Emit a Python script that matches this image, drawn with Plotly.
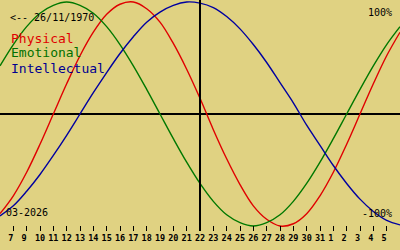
import plotly.graph_objects as go

# Values (one value per day, -1..1 = -100%..100%)
day_index = list(range(31))
physical = [-0.89, -0.73, -0.52, -0.27, 0.0, 0.27, 0.52, 0.73, 0.89, 0.98, 1.0,
            0.94, 0.82, 0.63, 0.40, 0.14, -0.14, -0.40, -0.63, -0.82, -0.94,
            -1.0, -0.98, -0.89, -0.73, -0.52, -0.27, 0.0, 0.27, 0.52, 0.73]
emotional = [0.43, 0.62, 0.78, 0.90, 0.97, 1.0, 0.97, 0.90, 0.78, 0.62, 0.43,
             0.22, 0.0, -0.22, -0.43, -0.62, -0.78, -0.90, -0.97, -1.0, -0.97,
             -0.90, -0.78, -0.62, -0.43, -0.22, 0.0, 0.22, 0.43, 0.62, 0.78]
intellectual = [-0.91, -0.82, -0.69, -0.54, -0.37, -0.19, 0.0, 0.19, 0.37, 0.54,
                0.69, 0.82, 0.91, 0.97, 1.0, 0.99, 0.95, 0.87, 0.76, 0.62, 0.46,
                0.28, 0.10, -0.10, -0.28, -0.46, -0.62, -0.76, -0.87, -0.95, -0.99]
tick_positions = list(range(1, 30))
tick_labels = ["7", "9"] + [str(d) for d in range(10, 32)] + [str(d) for d in range(1, 6)]
today_index = 15
series_names = ["Physical", "Emotional", "Intellectual"]
series_colors = ["#e00000", "#007800", "#0000a0"]
birth_label = "<-- 26/11/1970"
month_label = "03-2026"

BG = "#e0d282"
W, H = 400, 250

fig = go.Figure()
for name, vals, col in zip(series_names, [physical, emotional, intellectual], series_colors):
    fig.add_trace(go.Scatter(x=day_index, y=vals, mode="lines", name=name,
                             line=dict(color=col, width=1.4, shape="spline"),
                             showlegend=False, hoverinfo="skip"))

fig.add_vline(x=today_index, line=dict(color="black", width=2))

def px(x):
    return x / W

def py(y):
    return 1 - y / H

mono = "DejaVu Sans Mono"
ann = []
ann.append(dict(x=px(8), y=py(17), text=birth_label, xanchor="left", yanchor="middle",
                font=dict(family=mono, size=10, color="black")))
for i, (name, col) in enumerate(zip(series_names, ["#e00000", "#007000", "#000090"])):
    ann.append(dict(x=px(9), y=py(38 + 15 * i), text=name, xanchor="left", yanchor="middle",
                    font=dict(family=mono, size=13, color=col)))
ann.append(dict(x=px(394), y=py(12), text="100%", xanchor="right", yanchor="middle",
                font=dict(family=mono, size=10, color="black")))
ann.append(dict(x=px(394), y=py(213), text="-100%", xanchor="right", yanchor="middle",
                font=dict(family=mono, size=10, color="black")))
ann.append(dict(x=px(4), y=py(212), text=month_label, xanchor="left", yanchor="middle",
                font=dict(family=mono, size=10, color="black")))
for a in ann:
    a.update(xref="paper", yref="paper", showarrow=False)

ttext = [t + "\u00a0" if len(t) == 1 else t for t in tick_labels]

plot_h = 231
top = 1 + 2 / 112
bottom = top - plot_h / 112

fig.update_layout(
    width=W, height=H,
    margin=dict(l=0, r=0, t=0, b=0, pad=0),
    paper_bgcolor=BG, plot_bgcolor=BG,
    annotations=ann,
    xaxis=dict(range=[0, 30], showgrid=False, zeroline=False, showline=False,
               tickmode="array", tickvals=tick_positions, ticktext=ttext,
               ticks="inside", ticklen=5, tickwidth=1, tickcolor="black",
               tickfont=dict(family=mono, size=8.5, color="black", weight="bold"),
               fixedrange=True),
    yaxis=dict(range=[bottom, top], domain=[1 - plot_h / H, 1], showgrid=False,
               zeroline=True, zerolinecolor="black", zerolinewidth=2,
               showticklabels=False, ticks="", showline=False, fixedrange=True),
)

fig.write_html("out.html", config={"displayModeBar": False})
